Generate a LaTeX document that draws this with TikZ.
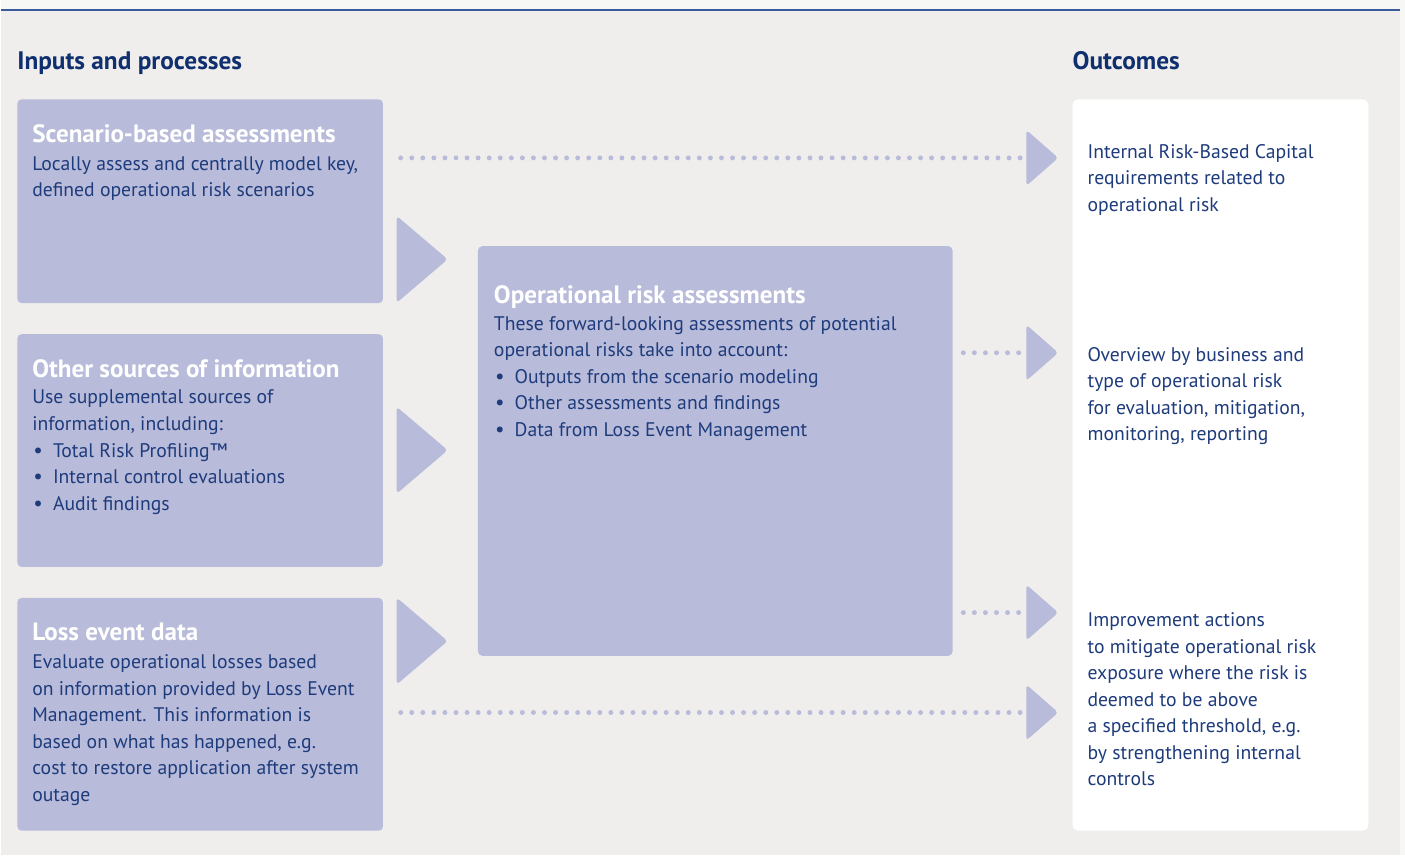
\documentclass[tikz,border=0pt]{standalone}
\usepackage{fontspec}
\setmainfont{PT Sans}
\usetikzlibrary{positioning}

\definecolor{pagebg}{HTML}{EFEEEC}
\definecolor{paperbg}{HTML}{F7F7F6}
\definecolor{rulebl}{HTML}{3B5A9B}
\definecolor{boxbl}{HTML}{B8BBD9}
\definecolor{headbl}{HTML}{0F2F6E}
\definecolor{textbl}{HTML}{1E3B7C}

\newcommand{\bitem}[1]{\hspace*{0.6pt}\makebox[11.2pt][l]{\large\textbullet}#1}

\begin{document}
\begin{tikzpicture}[x=0.02cm, y=-0.02cm,
    box/.style={fill=boxbl, rounded corners=2.5pt, inner sep=0pt, anchor=north west},
    outbox/.style={fill=white, rounded corners=3pt, inner sep=0pt, anchor=north west},
    head/.style={font=\fontsize{14.4}{17}\selectfont\bfseries, text=headbl, inner sep=0pt, anchor=base west},
    title/.style={font=\fontsize{14.3}{17}\selectfont\bfseries, text=white, inner sep=0pt, anchor=base west},
    body/.style={font=\fontsize{11.2}{15.1}\selectfont, text=textbl, inner sep=0pt, align=left, anchor=north west},
    tri/.style={fill=boxbl, rounded corners=2pt},
    dots/.style={draw=boxbl, line width=2.8pt, dash pattern=on 0pt off 6.3pt, line cap=round}]
  % page
  \fill[paperbg] (0,0) rectangle (1405,856);
  \fill[pagebg] (0,10) rectangle (1400,856);
  \draw[rulebl, line width=1.1pt] (0,10) -- (1400,10);
  \useasboundingbox (0,0) rectangle (1405,856);

  % headings
  \node[head] (inhead) at (16,70) {Inputs and processes};
  \node[head] (outhead) at (1072,70) {Outcomes};

  % input boxes
  \node[box, minimum width=7.32cm, minimum height=4.08cm] (scen) at (16,99) {};
  \node[box, minimum width=7.32cm, minimum height=4.66cm] (other) at (16,334) {};
  \node[box, minimum width=7.32cm, minimum height=4.66cm] (loss) at (16,598) {};
  % central box
  \node[box, minimum width=9.5cm, minimum height=8.2cm] (ora) at (477,246) {};
  % outcome box
  \node[outbox, minimum width=5.92cm, minimum height=14.64cm] (outc) at (1072,99) {};

  % box texts
  \node[title] (scentitle) at (31,143) {Scenario-based assessments};
  \node[body] (scentext) at (31,156) {Locally assess and centrally model key,\\defined operational risk scenarios};

  \node[title] (othertitle) at (31,378) {Other sources of information};
  \node[body] (othertext) at (31,390) {Use supplemental sources of\\information, including:\\
    \bitem{Total Risk Profiling™}\\\bitem{Internal control evaluations}\\\bitem{Audit findings}};

  \node[title] (losstitle) at (31,641) {Loss event data};
  \node[body] (losstext) at (31,655) {Evaluate operational losses based\\on information provided by Loss Event\\
    Management. This information is\\based on what has happened, e.g.\\
    cost to restore application after system\\outage};

  \node[title] (oratitle) at (493,304) {Operational risk assessments};
  \node[body] (oratext) at (493,316) {These forward-looking assessments of potential\\operational risks take into account:\\
    \bitem{Outputs from the scenario modeling}\\\bitem{Other assessments and findings}\\\bitem{Data from Loss Event Management}};

  % outcome texts
  \node[body] (irbc) at (1087,144) {Internal Risk-Based Capital\\requirements related to\\operational risk};
  \node[body] (overv) at (1087,347) {Overview by business and\\type of operational risk\\for evaluation, mitigation,\\monitoring, reporting};
  \node[body] (impr) at (1087,613) {Improvement actions\\to mitigate operational risk\\exposure where the risk is\\deemed to be above\\a specified threshold, e.g.\\by strengthening internal\\controls};

  % big arrows into the central box
  \foreach \ya/\yb/\name in {216/303/ta, 407/494/tb, 598/685/tc}{
    \fill[tri] (396,\ya) -- (447,{(\ya+\yb)/2}) -- (396,\yb) -- cycle;
  }
  % small arrows into the outcomes
  \foreach \yc/\name in {158/ra, 353/rb, 613/rc, 713/rd}{
    \fill[tri] (1026,\yc-28) -- (1058,\yc) -- (1026,\yc+28) -- cycle;
    \coordinate (\name) at (1020,\yc);
  }

  % dotted connectors
  \coordinate (scenout) at (400,158);
  \coordinate (lossout) at (400,713);
  \coordinate (oraouta) at (963,353);
  \coordinate (oraoutb) at (963,613);
  \draw[dots] (scenout) -- (ra);
  \draw[dots] (oraouta) -- (rb);
  \draw[dots] (oraoutb) -- (rc);
  \draw[dots] (lossout) -- (rd);
\end{tikzpicture}
\end{document}
